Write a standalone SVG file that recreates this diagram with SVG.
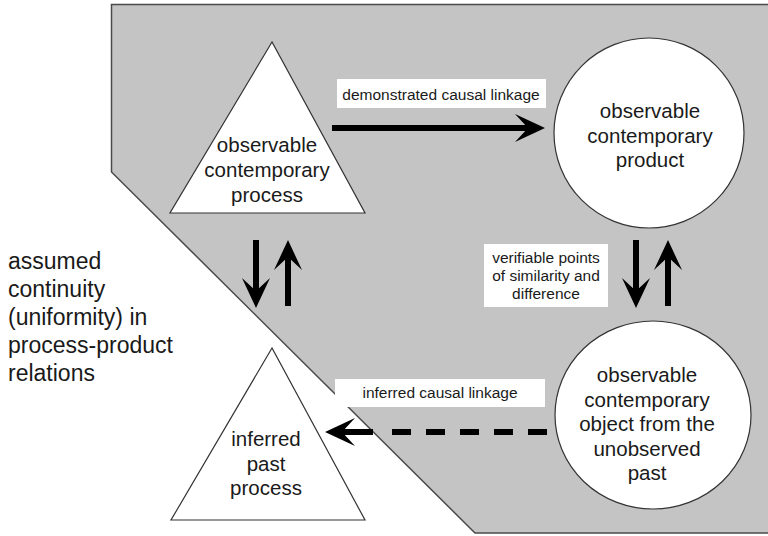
<svg xmlns="http://www.w3.org/2000/svg" width="768" height="536" viewBox="0 0 768 536">
<defs>
<style>
.node{fill:#fff;stroke:#333;stroke-width:1.2}
.t{font-family:"Liberation Sans",Arial,sans-serif;fill:#1a1a1a;text-anchor:middle}
.big{font-size:20.5px}
.sm{font-size:15.5px}
.lbl{fill:#fff;stroke:none}
.arr{stroke:#000;stroke-width:6;fill:none}
</style>
<marker id="ah" markerUnits="userSpaceOnUse" markerWidth="32" markerHeight="32" refX="14" refY="15" orient="auto">
<path d="M0,1 L30,15 L0,29 L13,15 Z" fill="#000"/>
</marker>
</defs>
<rect width="768" height="536" fill="#fff"/>
<polygon points="111.5,4.5 772,4.5 772,533 475,533 111.5,172" fill="#c4c4c4" stroke="#4a4a4a" stroke-width="1.5"/>
<g id="left-label">
<text class="t" x="8" y="269" style="font-size:23px;text-anchor:start">assumed</text>
<text class="t" x="8" y="297" style="font-size:23px;text-anchor:start">continuity</text>
<text class="t" x="8" y="325" style="font-size:23px;text-anchor:start">(uniformity) in</text>
<text class="t" x="8" y="353" style="font-size:23px;text-anchor:start">process-product</text>
<text class="t" x="8" y="381" style="font-size:23px;text-anchor:start">relations</text>
</g>
<g id="obs-process">
<polygon class="node" points="272,42 170,213 365,213"/>
<text class="t big" x="267" y="152">observable</text>
<text class="t big" x="267" y="177">contemporary</text>
<text class="t big" x="267" y="202">process</text>
</g>
<g id="obs-product">
<circle class="node" cx="649" cy="133" r="95"/>
<text class="t big" x="650" y="118">observable</text>
<text class="t big" x="650" y="143">contemporary</text>
<text class="t big" x="650" y="167">product</text>
</g>
<g id="obs-object">
<ellipse class="node" cx="653" cy="415" rx="98" ry="94"/>
<text class="t big" x="647" y="382">observable</text>
<text class="t big" x="647" y="407">contemporary</text>
<text class="t big" x="647" y="431">object from the</text>
<text class="t big" x="647" y="456">unobserved</text>
<text class="t big" x="647" y="480">past</text>
</g>
<g id="inf-process">
<polygon class="node" points="272,348 171,520 365,520"/>
<text class="t big" x="266" y="446">inferred</text>
<text class="t big" x="266" y="471">past</text>
<text class="t big" x="266" y="495">process</text>
</g>
<g id="connectors">
<line class="arr" x1="332" y1="128" x2="529" y2="128" marker-end="url(#ah)"/>
<line class="arr" x1="256" y1="240" x2="256" y2="292" marker-end="url(#ah)"/>
<line class="arr" x1="288" y1="306" x2="288" y2="256" marker-end="url(#ah)"/>
<line class="arr" x1="636" y1="240" x2="636" y2="292" marker-end="url(#ah)"/>
<line class="arr" x1="668" y1="306" x2="668" y2="256" marker-end="url(#ah)"/>
<line class="arr" x1="547" y1="432" x2="392" y2="432" stroke-dasharray="19 15"/>
<line class="arr" x1="373" y1="432" x2="341" y2="432" marker-end="url(#ah)"/>
<g id="label-demonstrated">
<rect class="lbl" x="337" y="79" width="209" height="29"/>
<text class="t sm" x="441" y="100">demonstrated causal linkage</text>
</g>
<g id="label-verifiable">
<rect class="lbl" x="484" y="244" width="124" height="63"/>
<text class="t sm" x="546" y="263">verifiable points</text>
<text class="t sm" x="546" y="281">of similarity and</text>
<text class="t sm" x="546" y="299">difference</text>
</g>
<g id="label-inferred">
<rect class="lbl" x="335" y="379" width="210" height="28"/>
<text class="t sm" x="440" y="398">inferred causal linkage</text>
</g>
</g>
</svg>
